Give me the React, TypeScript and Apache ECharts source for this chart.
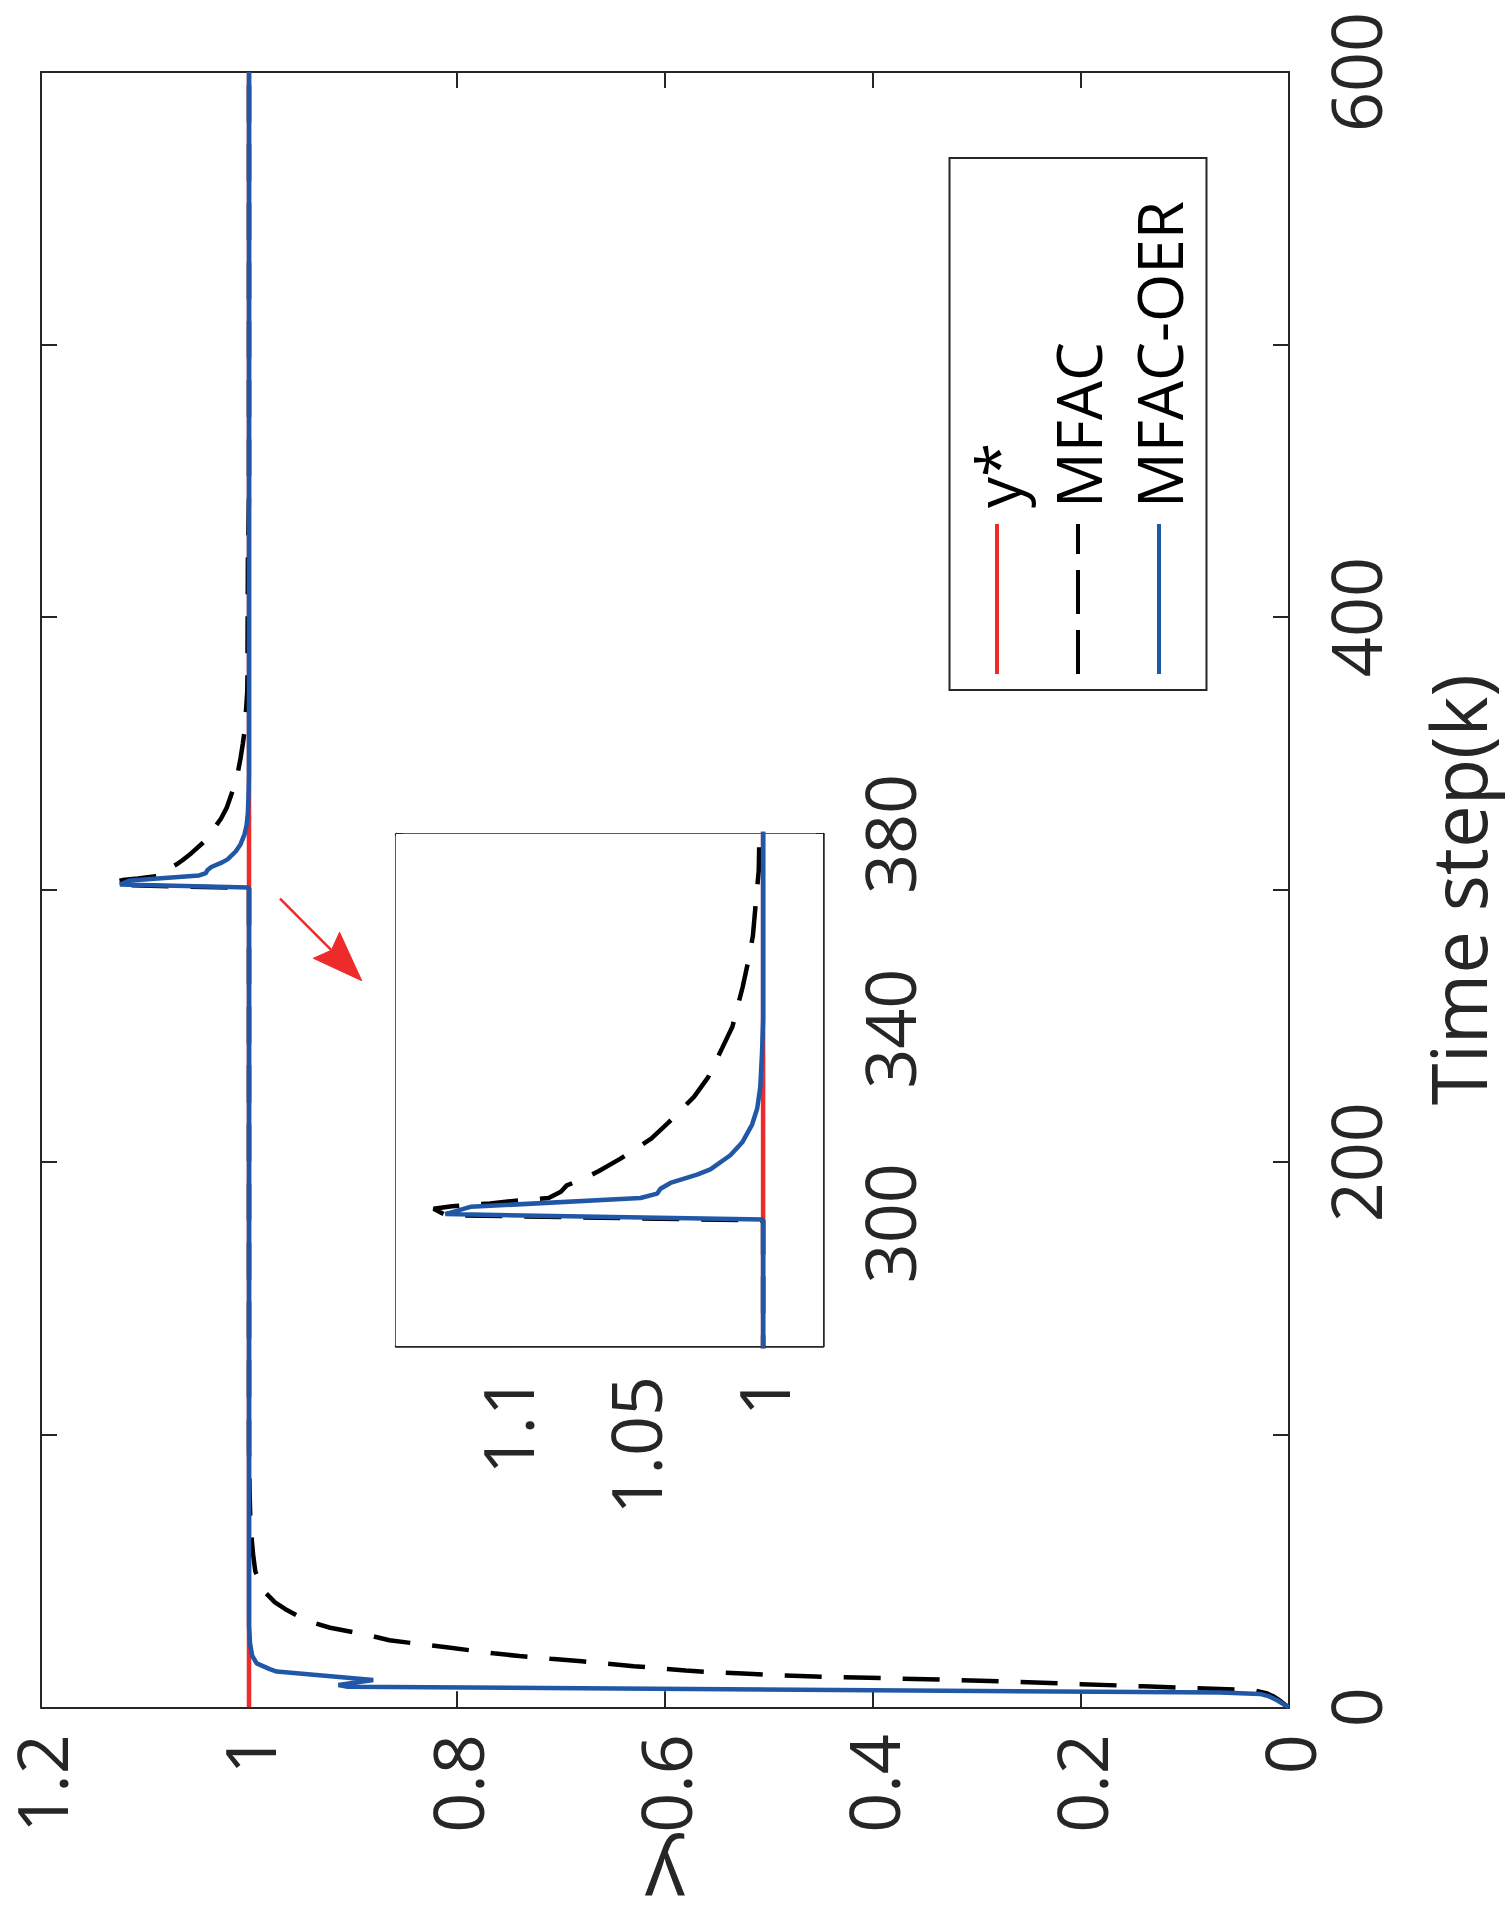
import React, { useEffect, useRef } from "react";
import * as echarts from "echarts";

// ---- data (y value vs time step k) ----
const refK = [0, 600];
const refY = [1, 1];

const mfacK = [0, 1, 2.5, 4, 5.2, 6.3, 7.0, 7.7, 8.5, 9.3, 10.0, 10.6, 11.1, 11.5, 11.9, 12.4, 12.9, 13.5, 14.3, 15.1, 16.0, 16.9, 17.8, 18.8, 19.8, 20.8, 22.0, 23.4, 24.6, 26.0, 27.6, 29.2, 31.2, 33.7, 36.0, 38.5, 42, 46, 50, 56, 62, 70, 80, 95, 300, 300.6, 301.7, 303.0, 303.5, 304.1, 304.6, 305.2, 306.5, 307.8, 309.2, 310.7, 313.3, 317.4, 320.7, 326.0, 330.0, 336.0, 340.4, 348.5, 353.4, 359.0, 365.0, 372.5, 378, 400, 420, 430, 445, 600];
const mfacY = [0, 0.004, 0.009, 0.015, 0.022, 0.035, 0.09, 0.14, 0.2, 0.26, 0.32, 0.38, 0.44, 0.47, 0.5, 0.525, 0.555, 0.58, 0.605, 0.63, 0.655, 0.68, 0.71, 0.74, 0.765, 0.785, 0.81, 0.84, 0.865, 0.88, 0.9, 0.922, 0.94, 0.954, 0.965, 0.975, 0.984, 0.99, 0.994, 0.996, 0.9975, 0.9988, 0.9995, 1.0, 1.0, 1.0, 1.124, 1.1287, 1.1215, 1.1066, 1.0974, 1.0838, 1.079, 1.0767, 1.07, 1.0643, 1.0557, 1.0437, 1.037, 1.027, 1.0215, 1.016, 1.012, 1.008, 1.006, 1.004, 1.003, 1.0017, 1.0015, 1.0013, 1.0011, 1.0006, 1.0, 1.0];

const oerK = [0, 0.85, 2.5, 4, 4.9, 5.4, 7.55, 8.2, 10.0, 13.1, 14.0, 16.1, 19, 23.5, 30, 300, 300.8, 301.9, 303.4, 305.2, 306.1, 307.1, 308.3, 310.0, 311.1, 314.0, 316.6, 320.3, 323.6, 328.0, 335.3, 342, 600];
const oerY = [0, 0.004, 0.011, 0.019, 0.028, 0.066, 0.905, 0.914, 0.8805, 0.9734, 0.98, 0.9926, 0.997, 0.999, 1.0, 1.0, 1.0, 1.1241, 1.1143, 1.0479, 1.0414, 1.0401, 1.0362, 1.0258, 1.0206, 1.0128, 1.0082, 1.0043, 1.0023, 1.0011, 1.0004, 1.0, 1.0];

const insetValueTicks = [1, 1.05, 1.1];
const insetTimeTicks = [280, 300, 320, 340, 360, 380];
const insetTimeLabels = [300, 340, 380];

const legendNames = ["y*", "MFAC", "MFAC-OER"];

// arrow annotation in data space: [y value, k] tail and tip
const arrowFrom = [0.9702, 296.7];
const arrowTip = [0.8916, 266.6];

const RED = "#EE2B2B";
const BLUE = "#2157A7";
const BLACK = "#000000";
const AX = "#262626";
const FONT = '"Open Sans", "Noto Sans", sans-serif';
const TICK_FS = 70;
const NAME_FS = 76;

const pairs = (k: number[], y: number[]) => k.map((kk, i) => [y[i], kk]);

export default function App() {
  const ref = useRef<HTMLDivElement>(null);
  useEffect(() => {
    if (!ref.current) return;
    const chart = echarts.init(ref.current, null, { renderer: "svg" });

    const axLine = { show: true, onZero: false, lineStyle: { color: AX, width: 2 } };
    const lblBase = { fontFamily: FONT, fontSize: TICK_FS, fontWeight: 500, color: AX };

    const makeSeries = (gi: number) => {
      const xi = gi === 0 ? 0 : 2;
      const yi = gi === 0 ? 0 : 2;
      const zb = gi === 0 ? 2 : 12;
      return [
        {
          type: "line",
          name: legendNames[0],
          xAxisIndex: xi,
          yAxisIndex: yi,
          data: pairs(refK, refY),
          showSymbol: false,
          symbol: "none",
          lineStyle: { color: RED, width: 4.5 },
          silent: true,
          clip: true,
          z: zb,
        },
        {
          type: "line",
          name: legendNames[1],
          xAxisIndex: xi,
          yAxisIndex: yi,
          data: pairs(mfacK, mfacY),
          showSymbol: false,
          symbol: "none",
          lineStyle: { color: BLACK, width: 4.5, type: [37, 22] },
          silent: true,
          clip: true,
          z: zb + 1,
        },
        {
          type: "line",
          name: legendNames[2],
          xAxisIndex: xi,
          yAxisIndex: yi,
          data: pairs(oerK, oerY),
          showSymbol: false,
          symbol: "none",
          lineStyle: { color: BLUE, width: 4.5 },
          silent: true,
          clip: true,
          z: zb + 2,
        },
      ];
    };

    const legendX = [997, 1078, 1159];
    const legendColors = [RED, BLACK, BLUE];
    const graphic: any[] = [
      {
        type: "rect",
        shape: { x: 949.5, y: 158, width: 257, height: 532 },
        style: { fill: "#fff", stroke: AX, lineWidth: 2 },
        z: 20,
      },
    ];
    legendNames.forEach((n, i) => {
      graphic.push({
        type: "line",
        shape: { x1: legendX[i], y1: 674, x2: legendX[i], y2: 524 },
        style: {
          stroke: legendColors[i],
          lineWidth: 4,
          lineDash: i === 1 ? [44, 16] : null,
        },
        z: 21,
      });
      graphic.push({
        type: "text",
        x: legendX[i],
        y: 508,
        rotation: Math.PI / 2,
        style: {
          text: n,
          fontFamily: FONT,
          fontSize: 62,
          fontWeight: 500,
          fill: "#000",
          align: "left",
          verticalAlign: "middle",
        },
        z: 21,
      });
    });

    const option: any = {
      animation: false,
      backgroundColor: "#ffffff",
      grid: [
        { left: 41, top: 72, right: 222, bottom: 213.7, outerBoundsMode: "none", containLabel: false },
        {
          left: 396, top: 834, right: 688, bottom: 575, outerBoundsMode: "none", containLabel: false,
          show: true, backgroundColor: "#ffffff", borderWidth: 0, z: 5,
        },
      ],
      xAxis: [
        {
          gridIndex: 0, type: "value", min: 0, max: 1.2, interval: 0.2, inverse: true, position: "bottom",
          axisLine: axLine,
          axisTick: { show: true, inside: true, length: 16, lineStyle: { color: AX, width: 2 } },
          axisLabel: { ...lblBase, rotate: 90, margin: 27, formatter: (v: number) => String(Math.round(v * 10) / 10) },
          splitLine: { show: false },
          name: "y", nameLocation: "middle", nameGap: 136, nameRotate: 180,
          nameTextStyle: { fontFamily: FONT, fontSize: 80, fontWeight: 500, color: AX },
        },
        {
          gridIndex: 0, type: "value", min: 0, max: 1.2, interval: 0.2, inverse: true, position: "top",
          axisLine: axLine,
          axisTick: { show: true, inside: true, length: 16, lineStyle: { color: AX, width: 2 } },
          axisLabel: { show: false }, splitLine: { show: false },
        },
        {
          gridIndex: 1, type: "value", min: 0.9766, max: 1.1434, inverse: true, position: "bottom",
          axisLine: { ...axLine, lineStyle: { color: AX, width: 2.5 } },
          axisTick: { show: true, inside: true, length: 7, customValues: insetValueTicks, lineStyle: { color: AX, width: 2 } },
          axisLabel: { ...lblBase, rotate: 90, margin: 30, customValues: insetValueTicks, formatter: (v: number) => String(Math.round(v * 100) / 100) },
          splitLine: { show: false },
        },
        {
          gridIndex: 1, type: "value", min: 0.9766, max: 1.1434, inverse: true, position: "top",
          axisLine: { ...axLine, lineStyle: { color: AX, width: 2.5 } },
          axisTick: { show: true, inside: true, length: 7, customValues: insetValueTicks, lineStyle: { color: AX, width: 2 } },
          axisLabel: { show: false }, splitLine: { show: false },
        },
      ],
      yAxis: [
        {
          gridIndex: 0, type: "value", min: 0, max: 600, interval: 100, position: "right",
          axisLine: axLine,
          axisTick: { show: true, inside: true, length: 16, lineStyle: { color: AX, width: 2 } },
          axisLabel: { ...lblBase, rotate: 90, margin: 31, formatter: (v: number) => (v % 200 === 0 ? String(v) : "") },
          splitLine: { show: false },
          name: "Time step(k)", nameLocation: "middle", nameGap: 130, nameRotate: 90,
          nameTextStyle: { fontFamily: FONT, fontSize: NAME_FS, fontWeight: 500, color: AX },
        },
        {
          gridIndex: 0, type: "value", min: 0, max: 600, interval: 100, position: "left",
          axisLine: axLine,
          axisTick: { show: true, inside: true, length: 16, lineStyle: { color: AX, width: 2 } },
          axisLabel: { show: false }, splitLine: { show: false },
        },
        {
          gridIndex: 1, type: "value", min: 274.8, max: 380, position: "right",
          axisLine: { ...axLine, lineStyle: { color: AX, width: 2.5 } },
          axisTick: { show: true, inside: true, length: 7, customValues: insetTimeTicks, lineStyle: { color: AX, width: 2 } },
          axisLabel: { ...lblBase, rotate: 90, margin: 31, customValues: insetTimeLabels, formatter: (v: number) => String(v) },
          splitLine: { show: false },
        },
        {
          gridIndex: 1, type: "value", min: 274.8, max: 380, position: "left",
          axisLine: { ...axLine, lineStyle: { color: AX, width: 2.5 } },
          axisTick: { show: true, inside: true, length: 7, customValues: insetTimeTicks, lineStyle: { color: AX, width: 2 } },
          axisLabel: { show: false }, splitLine: { show: false },
        },
      ],
      series: [...makeSeries(0), ...makeSeries(1)],
      graphic,
    };
    chart.setOption(option);

    // red annotation arrow, placed through the main axes' scales
    const p0 = chart.convertToPixel({ seriesIndex: 0 }, arrowFrom) as number[];
    const pt = chart.convertToPixel({ seriesIndex: 0 }, arrowTip) as number[];
    if (p0 && pt) {
      const dx = pt[0] - p0[0];
      const dy = pt[1] - p0[1];
      const len = Math.sqrt(dx * dx + dy * dy) || 1;
      const ux = dx / len;
      const uy = dy / len;
      const nx = -uy;
      const ny = ux;
      const L = 50;
      const W = 18.5;
      const bx = pt[0] - L * ux;
      const by = pt[1] - L * uy;
      const notchX = pt[0] - 0.86 * L * ux;
      const notchY = pt[1] - 0.86 * L * uy;
      const arrowGraphic = [
        ...graphic,
        {
          type: "line",
          shape: { x1: p0[0], y1: p0[1], x2: notchX, y2: notchY },
          style: { stroke: RED, lineWidth: 2.5 },
          z: 30,
        },
        {
          type: "polygon",
          shape: {
            points: [
              [pt[0], pt[1]],
              [bx + W * nx, by + W * ny],
              [notchX, notchY],
              [bx - W * nx, by - W * ny],
            ],
          },
          style: { fill: RED, stroke: RED, lineWidth: 1 },
          z: 30,
        },
      ];
      chart.setOption({ graphic: arrowGraphic });
    }
    return () => chart.dispose();
  }, []);

  return (
    <div
      ref={ref}
      style={{ position: "absolute", left: 0, top: 0, width: 1511, height: 1921, background: "#fff" }}
    />
  );
}
